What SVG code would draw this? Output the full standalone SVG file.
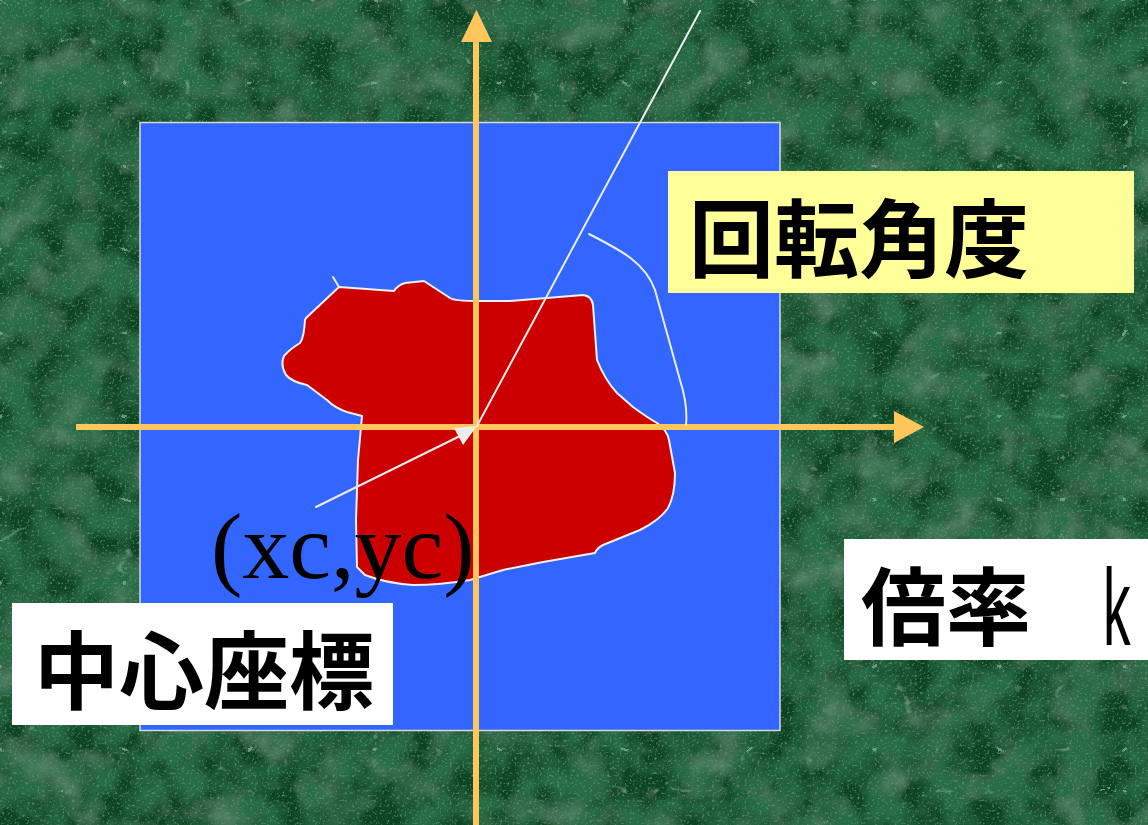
<svg xmlns="http://www.w3.org/2000/svg" width="1148" height="825" viewBox="0 0 1148 825">
  <defs>
    <filter id="marble" x="0" y="0" width="1148" height="825" filterUnits="userSpaceOnUse">
      <feFlood flood-color="#0f4422" result="base"/>
      <feTurbulence type="fractalNoise" baseFrequency="0.02" numOctaves="4" seed="11" result="pn"/>
      <feColorMatrix in="pn" type="matrix" values="0 0 0 0 0.16  0 0 0 0 0.38  0 0 0 0 0.24  1.5 0 0 0 -0.7" result="patch"/>
      <feTurbulence type="fractalNoise" baseFrequency="0.03" numOctaves="3" seed="5" result="dn"/>
      <feColorMatrix in="dn" type="matrix" values="0 0 0 0 0.02  0 0 0 0 0.15  0 0 0 0 0.06  2.5 0 0 0 -0.8" result="dark"/>
      <feTurbulence type="turbulence" baseFrequency="0.008 0.012" numOctaves="4" seed="7" result="tn"/>
      <feColorMatrix in="tn" type="matrix" values="0 0 0 0 0.27  0 0 0 0 0.54  0 0 0 0 0.38  -8 0 0 0 0.5" result="veins"/>
      <feTurbulence type="fractalNoise" baseFrequency="0.4" numOctaves="2" seed="2" result="sn"/>
      <feColorMatrix in="sn" type="matrix" values="0 0 0 0 0.16  0 0 0 0 0.38  0 0 0 0 0.24  2 0 0 0 -1.15" result="speck"/>
      <feMerge>
        <feMergeNode in="base"/>
        <feMergeNode in="patch"/>
        <feMergeNode in="dark"/>
        <feMergeNode in="veins"/>
        <feMergeNode in="speck"/>
      </feMerge>
    </filter>
    <style>
      .axis { stroke: #ffc65c; stroke-width: 6; fill: none; }
      .axhead { fill: #ffc65c; }
      .wline { stroke: #ececec; stroke-width: 2; fill: none; stroke-linecap: round; }
      .cjk { font-family: "Noto Sans CJK JP", "Noto Sans CJK SC", sans-serif; font-weight: bold; font-size: 85px; fill: #000; }
      .serif { font-family: "Liberation Serif", "Times New Roman", serif; font-size: 94px; fill: #000; }
    </style>
  </defs>

  <rect x="0" y="0" width="1148" height="825" fill="#0f4422" filter="url(#marble)"/>

  <g id="canvas">
    <rect x="140" y="122.5" width="640" height="608" fill="#3366ff" stroke="#d8d8d8" stroke-width="1.5"/>
  </g>

  <g id="shape">
    <path d="M339,287 L394,291 Q398,285 405,283 L424,281 L450,298 Q455,301 477,301 L510,301 L583,295 Q592,296 593,305 L597,360 Q605,380 617,393 L633,407 Q648,418 657,423 Q667,430 669,440 L675,473 Q675,495 668,508 Q660,520 640,530 L603,545 Q597,548 595,553 L543,562 L503,570 L470,580 Q440,585 413,585 Q385,583 365,575 L357,567 L356,520 L358,460 L362,416 L347,412 Q335,408 327,400 L307,385 Q292,382 286,375 Q280,365 284,356 Q290,349 300,343 Q304,338 305,320 L306,318 Z" fill="#cc0000" stroke="#f0f0f0" stroke-width="2" stroke-linejoin="round"/>
    <line x1="333" y1="277" x2="339" y2="287" class="wline"/>
  </g>

  <g id="connectors">
    <line x1="476" y1="825" x2="476" y2="40" class="axis"/>
    <polygon points="461,42 476.5,10 492,42" class="axhead"/>
    <line x1="76" y1="427" x2="896" y2="427" class="axis"/>
    <polygon points="894,411 924,427 894,443" class="axhead"/>
    <line x1="700" y1="11" x2="477" y2="426" class="wline"/>
    <path d="M589,234 C620,250 645,262 655,290 L680,380 Q688,405 686,425" class="wline"/>
    <line x1="316" y1="507" x2="460" y2="436" class="wline"/>
    <polygon points="454,428 477,426 463,445" fill="#ececec"/>
  </g>

  <g id="label-angle">
    <rect x="668" y="171" width="466" height="122" fill="#ffff99"/>
    <text x="689" y="271" class="cjk">回転角度</text>
  </g>

  <g id="label-scale">
    <rect x="844" y="539" width="304" height="121" fill="#ffffff"/>
    <text x="861" y="639" class="cjk">倍率</text>
    <text transform="translate(1103,645) scale(0.5,1)" font-family="Liberation Sans, Arial, sans-serif" font-size="110" fill="#000">k</text>
  </g>

  <g id="label-center-coord">
    <text x="211" y="578" class="serif">(xc,yc)</text>
  </g>

  <g id="label-center">
    <rect x="12" y="603" width="381" height="122" fill="#ffffff"/>
    <text x="34" y="703" class="cjk">中心座標</text>
  </g>
</svg>
